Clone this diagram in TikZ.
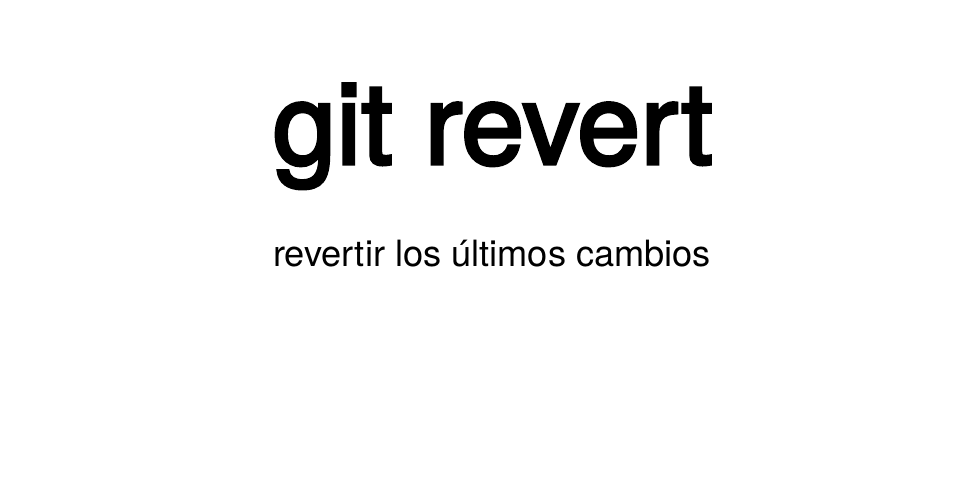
\documentclass[tikz,border=0pt]{standalone}
\usepackage{fontspec}
\setmainfont{TeX Gyre Heros}
\newfontfamily\titlefont[FakeBold=3]{TeX Gyre Heros}
\usepackage{tikz}
\usetikzlibrary{positioning}
\tikzset{titletext/.style={font=\titlefont\fontsize{32.3}{38}\selectfont, inner sep=0, anchor=base}}
\tikzset{subtext/.style={font=\fontsize{10.3}{12}\selectfont, inner sep=0, anchor=base}}
\newcommand{\drawtitle}{\node[titletext]}
\newcommand{\drawsub}{\node[subtext]}

\begin{document}
\begin{tikzpicture}[scale=1]
	
	\useasboundingbox (0,0) rectangle (9.53,-4.81);
	
	\drawtitle (title) at (4.93,-1.64) {git revert};
	\drawsub (sub) at (4.92,-2.66) {revertir los últimos cambios};
	
\end{tikzpicture}
\end{document}
